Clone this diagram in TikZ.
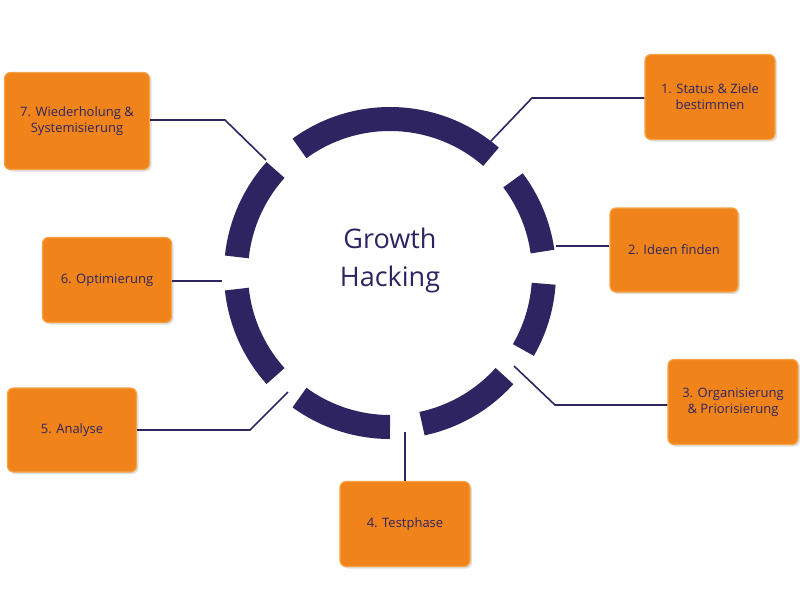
\documentclass[tikz,border=0pt]{standalone}
\usepackage{fontspec}
\setmainfont{Open Sans}
\usetikzlibrary{shadows}
\definecolor{ring}{HTML}{2F2462}
\definecolor{org}{HTML}{F0841A}
\definecolor{orgb}{HTML}{F5A346}
\begin{document}
\begin{tikzpicture}[x=1pt,y=1pt,
  box/.style={fill=org,draw=orgb,line width=1.2pt,rounded corners=6pt,text=ring,font=\fontsize{13}{16}\selectfont,align=center,inner sep=0pt,drop shadow={opacity=0.25,shadow xshift=2pt,shadow yshift=-2pt}},
  seg/.style={draw=ring,line width=24pt},
  conn/.style={draw=ring,line width=1.6pt}]
\useasboundingbox (0,0) rectangle (800,-600);
\foreach \a/\b in {49/126, 8/37, -30/-4, -78/-42, -126/-90, 186/222, 138/174}
  \draw[seg] ([shift={(390,-273)}]\a:154) arc[start angle=\a,end angle=\b,radius=154];
\node[text=ring,font=\fontsize{27}{38}\selectfont,align=center] (c) at (390,-260) {Growth\\Hacking};
\node[box,minimum width=130,minimum height=85] (b1) at (710,-97) {1. Status \& Ziele\\bestimmen};
\node[box,minimum width=128,minimum height=84] (b2) at (674,-250) {2. Ideen finden};
\node[box,minimum width=130,minimum height=85] (b3) at (733,-402) {3. Organisierung\\\& Priorisierung};
\node[box,minimum width=130,minimum height=85] (b4) at (405,-524) {4. Testphase};
\node[box,minimum width=129,minimum height=84] (b5) at (72,-430) {5. Analyse};
\node[box,minimum width=129,minimum height=85] (b6) at (107,-280) {6. Optimierung};
\node[box,minimum width=145,minimum height=97] (b7) at (77,-121) {7. Wiederholung \&\\Systemisierung};
\coordinate (g1) at (490,-142); \coordinate (k1) at (532,-98);
\coordinate (g2) at (556,-246);
\coordinate (g3) at (514,-366); \coordinate (k3) at (555,-405);
\coordinate (g4) at (405,-432);
\coordinate (g5) at (288,-392); \coordinate (k5) at (250,-430);
\coordinate (g6) at (222,-281);
\coordinate (g7) at (266,-160); \coordinate (k7) at (225,-120);
\draw[conn] (b1.west |- k1) -- (k1) -- (g1);
\draw[conn] (b2.west |- g2) -- (g2);
\draw[conn] (b3.west |- k3) -- (k3) -- (g3);
\draw[conn] (b4.north) -- (g4);
\draw[conn] (b5.east |- k5) -- (k5) -- (g5);
\draw[conn] (b6.east |- g6) -- (g6);
\draw[conn] (b7.east |- k7) -- (k7) -- (g7);
\end{tikzpicture}
\end{document}
